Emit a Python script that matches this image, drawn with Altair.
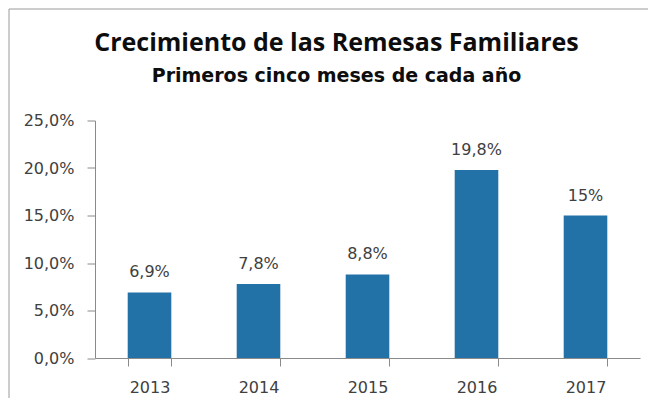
import altair as alt
import pandas as pd

years = ["2013", "2014", "2015", "2016", "2017"]
growth = [6.9, 7.8, 8.8, 19.8, 15.0]
labels = ["6,9%", "7,8%", "8,8%", "19,8%", "15%"]
y_ticks = [0, 5, 10, 15, 20, 25]

df = pd.DataFrame({"year": years, "growth": growth, "label": labels})

AXIS_COLOR = "#8a8a8a"
TEXT_COLOR = "#404040"
BAR_COLOR = "#2271A7"
FRAME_COLOR = "#9a9a9a"
FONT = "DejaVu Sans"

x_enc = alt.X(
    "year:N",
    sort=years,
    scale=alt.Scale(paddingInner=0.6, paddingOuter=0.3),
    axis=alt.Axis(
        title=None,
        labelAngle=0,
        labelFont=FONT,
        labelFontSize=16,
        labelColor=TEXT_COLOR,
        labelBaseline="alphabetic",
        labelPadding=26,
        tickBand="extent",
        tickSize=8,
        tickColor=AXIS_COLOR,
        domainColor=AXIS_COLOR,
        grid=False,
    ),
)
y_enc = alt.Y(
    "growth:Q",
    scale=alt.Scale(domain=[0, 25], nice=False),
    axis=alt.Axis(
        title=None,
        values=y_ticks,
        labelExpr="replace(format(datum.value, '.1f'), '.', ',') + '%'",
        labelFont=FONT,
        labelFontSize=16,
        labelColor=TEXT_COLOR,
        labelPadding=13,
        tickSize=8,
        tickColor=AXIS_COLOR,
        domainColor=AXIS_COLOR,
        grid=False,
    ),
)

base = alt.Chart(df)
bars = base.mark_bar(color=BAR_COLOR).encode(x=x_enc, y=y_enc)
text = base.mark_text(
    font=FONT, fontSize=16, color=TEXT_COLOR, baseline="alphabetic", dy=-15
).encode(x=alt.X("year:N", sort=years), y=alt.Y("growth:Q"), text="label:N")

frame_src = alt.Chart(pd.DataFrame({"f": [0]}))
frame_left = frame_src.mark_rule(color=FRAME_COLOR, strokeWidth=1).encode(
    x=alt.value(-86), y=alt.value(-111.5), y2=alt.value(300)
)
frame_top = frame_src.mark_rule(color=FRAME_COLOR, strokeWidth=1).encode(
    x=alt.value(-86), x2=alt.value(553), y=alt.value(-111.5)
)

chart = alt.layer(bars, text, frame_left, frame_top).properties(
    width=545,
    height=237.5,
    autosize=alt.AutoSizeParams(type="none"),
    padding={"left": 87, "top": 112.5, "right": 9, "bottom": 40},
    title=alt.TitleParams(
        text="Crecimiento de las Remesas Familiares",
        subtitle="Primeros cinco meses de cada año",
        anchor="middle",
        frame="group",
        dx=-31,
        offset=-77,
        font="Open Sans",
        fontSize=25,
        fontWeight="bold",
        color="#0d0d0d",
        subtitleFont="DejaVu Sans",
        subtitleFontSize=19,
        subtitleFontWeight="bold",
        subtitleColor="#0d0d0d",
        subtitlePadding=11,
    ),
).configure_view(stroke=None)

chart.save("out.html", embed_options={"renderer": "svg", "actions": False})
